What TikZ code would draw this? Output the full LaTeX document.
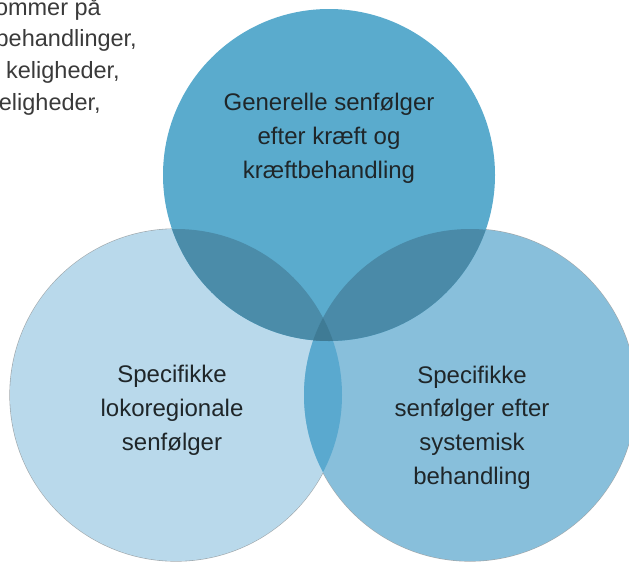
\documentclass[tikz,border=0pt]{standalone}
\usepackage{fontspec}
\setmainfont{Liberation Sans}
\definecolor{cTop}{HTML}{5AABCD}
\definecolor{cLeft}{HTML}{B9D9EB}
\definecolor{cRight}{HTML}{88BFDB}
\definecolor{cTL}{HTML}{4B8CA9}
\definecolor{cTR}{HTML}{4A8AA8}
\definecolor{cLR}{HTML}{5AA9CF}
\definecolor{cAll}{HTML}{3F7B95}
\definecolor{outl}{HTML}{A0A8AC}
\definecolor{txtdark}{HTML}{1F2629}
\definecolor{txtgray}{HTML}{3A3A3A}
\begin{document}
\begin{tikzpicture}[x=1pt,y=-1pt,
  circtxt/.style={align=center, font=\fontsize{24}{33.8}\selectfont, text=txtdark, inner sep=0pt},
  sidetxt/.style={anchor=base east, font=\fontsize{23.5}{33}\selectfont, text=txtgray, inner sep=0pt},
  outline/.style={draw=outl, line width=1.2pt}]
\useasboundingbox (0,0) rectangle (629,562);
\coordinate (L) at (176,395);
\coordinate (R) at (470,395);
\coordinate (T) at (329,175);
\begin{scope}
\clip (0,0) rectangle (629,562);
\draw[outline] (L) circle[radius=166pt];
\draw[outline] (R) circle[radius=166pt];
\fill[cLeft] (L) circle[radius=166pt];
\fill[cRight] (R) circle[radius=166pt];
\fill[cTop] (T) circle[radius=166pt];
\begin{scope}
  \clip (L) circle[radius=166pt];
  \fill[cLR] (R) circle[radius=166pt];
\end{scope}
\begin{scope}
  \clip (L) circle[radius=166pt];
  \fill[cTL] (T) circle[radius=166pt];
\end{scope}
\begin{scope}
  \clip (R) circle[radius=166pt];
  \fill[cTR] (T) circle[radius=166pt];
\end{scope}
\begin{scope}
  \clip (L) circle[radius=166pt];
  \clip (R) circle[radius=166pt];
  \fill[cAll] (T) circle[radius=166pt];
\end{scope}
\end{scope}
\node[circtxt] (ttop) at (329,138) {Generelle senfølger\\efter kræft og\\kræftbehandling};
\node[circtxt] (tleft) at (172,410) {Specifikke\\lokoregionale\\senfølger};
\node[circtxt] (tright) at (472,427.5) {Specifikke\\senfølger efter\\systemisk\\behandling};
\node[sidetxt] (s1) at (101,16) {ommer på};
\node[sidetxt] (s2) at (137,46) {behandlinger,};
\node[sidetxt] (s3) at (120,78) {keligheder,};
\node[sidetxt] (s4) at (101,110) {eligheder,};
\end{tikzpicture}
\end{document}
